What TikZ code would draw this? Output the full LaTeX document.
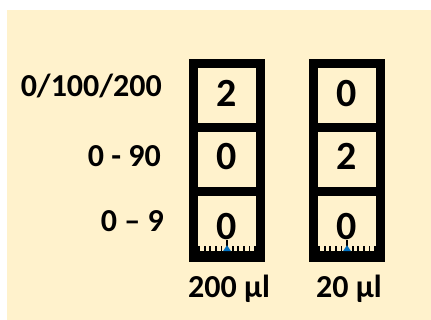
\documentclass[tikz,border=0pt]{standalone}
\usepackage{fontspec}
\setmainfont{Carlito}
\usetikzlibrary{positioning}

\definecolor{cream}{HTML}{FFF2CC}
\definecolor{pointerblue}{HTML}{0070C0}

\begin{document}
\begin{tikzpicture}[x=1pt, y=-1pt,
    cell/.style={fill=cream, minimum width=58pt, minimum height=55pt, inner sep=0pt},
    digit/.style={anchor=base, inner sep=0pt, font=\fontsize{40}{40}\selectfont\bfseries},
    rangelabel/.style={anchor=base east, inner sep=0pt, font=\fontsize{32}{32}\selectfont\bfseries},
    volume/.style={anchor=base, inner sep=0pt, font=\fontsize{32}{32}\selectfont\bfseries},
    tickmark/.style={line width=1.8pt},
    pointer/.style={line width=2.8pt}]
    \useasboundingbox (0,0) rectangle (431,320);
    \fill[cream] (7,10) rectangle (431,320);

    % the two pipettes
    \foreach \col/\x/\da/\db/\dc/\vol in {l/227/2/0/0/200, r/347/0/2/0/20} {
        \fill (\x-38,59) rectangle (\x+38,262);
        \node[cell] (\col1) at (\x,95.5) {};
        \node[cell] (\col2) at (\x,159.5) {};
        \node[cell] (\col3) at (\x,223.5) {};
        \node[digit] (\col d1) at (\x,107) {\da};
        \node[digit] (\col d2) at (\x,170) {\db};
        \node[digit] (\col d3) at (\x,240) {\dc};
        \foreach \k in {-5,...,-1,1,2,...,5}
            \draw[tickmark] ([xshift=\k*5.6pt]\col3.south) -- ++(0,-5);
        \draw[pointer] (\col d3.south) -- ([yshift=4pt]\col3.south);
        \fill[pointerblue] ([xshift=-4pt]\col3.south) -- ([yshift=6pt]\col3.south)
            -- ([xshift=4pt]\col3.south) -- cycle;
        \node[volume] (\col v) at (\x+2,298) {\vol{} µl};
    }

    % dial ranges
    \node[rangelabel] (range1) at (162,97) {0/100/200};
    \node[rangelabel] (range2) at (161,167) {0 - 90};
    \node[rangelabel] (range3) at (164,232) {0 – 9};
\end{tikzpicture}
\end{document}
